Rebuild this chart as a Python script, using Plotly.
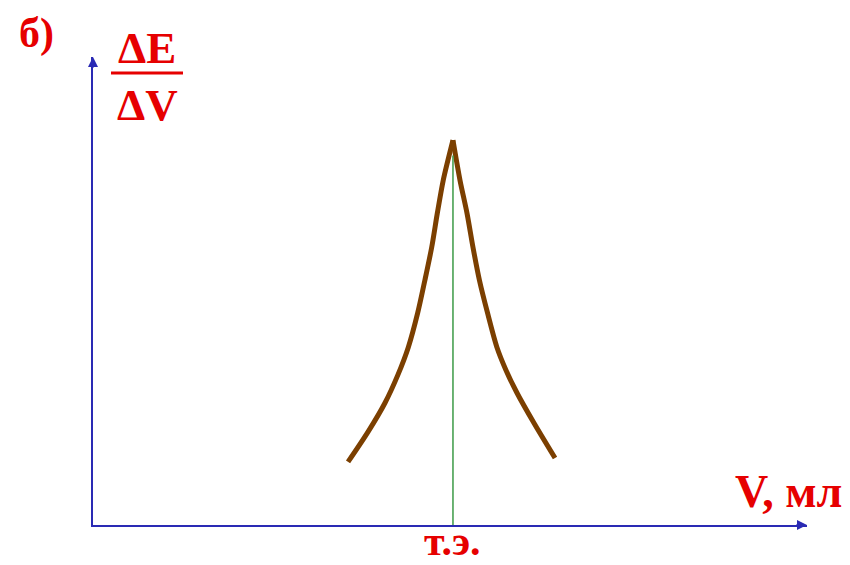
import plotly.graph_objects as go

# Differential titration curve dE/dV vs V
v_left = [14.17, 15.28, 16.22, 16.94, 17.52, 18.04, 18.44, 18.82, 19.13, 19.46, 20.0]
d_left = [1.64, 2.42, 3.17, 3.90, 4.62, 5.51, 6.36, 7.22, 8.10, 8.96, 10.0]
v_right = [20.0, 20.39, 20.78, 21.11, 21.47, 21.92, 22.44, 22.94, 23.56, 24.50, 25.67]
d_right = [10.0, 8.96, 8.10, 7.22, 6.36, 5.51, 4.62, 4.03, 3.43, 2.65, 1.74]

v_eq = 20.0          # equivalence point, ml
marker_top = 9.6     # top of the equivalence-point line
x_max, y_max = 39.67, 12.16

W, H = 850, 565
ML, MR, MT, MB = 93, 43, 57, 40

RED = "#e60000"
BLUE = "#2a2ab4"
BROWN = "#7b3f00"
GREEN = "#3c9a46"
SERIF = "Liberation Serif"


def px(x):
    return (x - ML) / (W - ML - MR)


def py(y):
    return (H - MB - y) / (H - MT - MB)


fig = go.Figure()
for xs, ys in ((v_left, d_left), (v_right, d_right)):
    fig.add_trace(go.Scatter(
        x=xs, y=ys, mode="lines",
        line=dict(color=BROWN, width=5, shape="spline", smoothing=0.8),
        hoverinfo="skip", showlegend=False,
    ))
fig.add_trace(go.Scatter(
    x=[v_eq, v_eq], y=[0, marker_top], mode="lines",
    line=dict(color=GREEN, width=1.5),
    hoverinfo="skip", showlegend=False,
))

annotations = [
    # axis arrowheads
    dict(x=x_max, y=0, xref="x", yref="y", text="", showarrow=True,
         ax=-12, ay=0, arrowhead=2, arrowsize=1, arrowwidth=2, arrowcolor=BLUE),
    dict(x=0, y=y_max, xref="x", yref="y", text="", showarrow=True,
         ax=0, ay=12, arrowhead=2, arrowsize=1, arrowwidth=2, arrowcolor=BLUE),
    # labels
    dict(x=px(36), y=py(34), xref="paper", yref="paper", text="<b>б)</b>",
         showarrow=False, font=dict(family=SERIF, size=42, color=RED),
         xanchor="center", yanchor="middle"),
    dict(x=px(147), y=py(48), xref="paper", yref="paper", text="<b>ΔE</b>",
         showarrow=False, font=dict(family=SERIF, size=45, color=RED),
         xanchor="center", yanchor="middle"),
    dict(x=px(147), y=py(105), xref="paper", yref="paper", text="<b>ΔV</b>",
         showarrow=False, font=dict(family=SERIF, size=45, color=RED),
         xanchor="center", yanchor="middle"),
    dict(x=px(788), y=py(491), xref="paper", yref="paper", text="<b>V, мл</b>",
         showarrow=False, font=dict(family=SERIF, size=46, color=RED),
         xanchor="center", yanchor="middle"),
    dict(x=v_eq, y=py(565), xref="x", yref="paper", text="<b>т.э.</b>",
         showarrow=False, font=dict(family=SERIF, size=42, color=RED),
         xanchor="center", yanchor="bottom", borderpad=0),
]

shapes = [
    # fraction bar of dE/dV
    dict(type="line", xref="paper", yref="paper",
         x0=px(111), x1=px(183), y0=py(73), y1=py(73),
         line=dict(color=RED, width=3)),
]

fig.update_layout(
    width=W, height=H,
    margin=dict(l=ML, r=MR, t=MT, b=MB, pad=0),
    paper_bgcolor="white", plot_bgcolor="white",
    annotations=annotations, shapes=shapes,
    xaxis=dict(range=[0, x_max], showgrid=False, zeroline=False,
               showticklabels=False, ticks="", showline=True,
               linecolor=BLUE, linewidth=2, fixedrange=True),
    yaxis=dict(range=[0, y_max], showgrid=False, zeroline=False,
               showticklabels=False, ticks="", showline=True,
               linecolor=BLUE, linewidth=2, fixedrange=True),
)

fig.write_html("out.html", config={"displayModeBar": False})
